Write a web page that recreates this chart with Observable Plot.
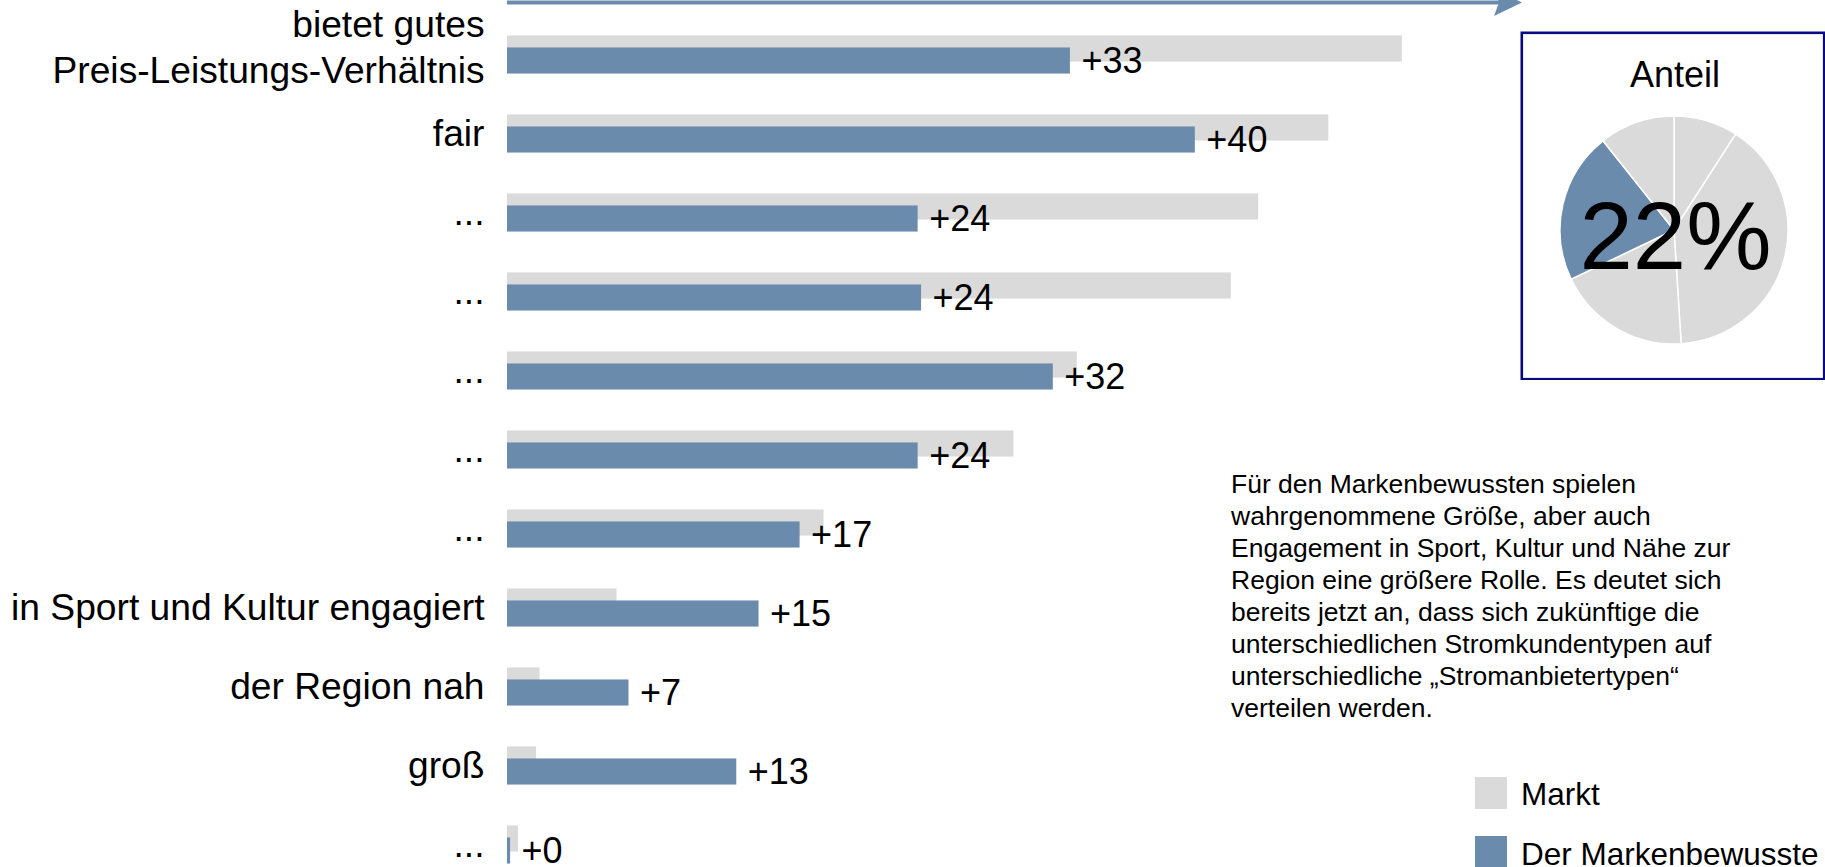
<!DOCTYPE html>
<html><head><meta charset="utf-8">
<script src="https://cdn.jsdelivr.net/npm/d3@7"></script>
<script src="https://cdn.jsdelivr.net/npm/@observablehq/plot@0.6"></script>
<style>
body{margin:0;background:#fff;font-family:"Liberation Sans",Arial,sans-serif;color:#000;}
#wrap{position:relative;width:1825px;height:867px;overflow:hidden;background:#fff;}
#chart{position:absolute;left:0;top:0;}
#arrow{position:absolute;left:0;top:0;}
#pie{position:absolute;left:1520px;top:31px;}
#note{position:absolute;left:1231px;top:468px;font-size:26.5px;line-height:32px;white-space:nowrap;}
.sw{position:absolute;width:32px;height:32px;left:1475px;}
.lt{position:absolute;left:1521px;font-size:31.5px;line-height:28px;white-space:nowrap;}
</style></head><body>
<div id="wrap">
  <div id="chart"></div>
  <svg id="arrow" width="1825" height="40">
    <line x1="507" y1="2.5" x2="1500" y2="2.5" stroke="#6b8bad" stroke-width="4"/>
    <polygon points="1522,2.5 1494,16 1499,2.5 1494,-11" fill="#6b8bad"/>
  </svg>
  <div id="pie"></div>
  <div id="note"></div>
  <div id="legend"></div>
</div>
<script>
// ---- data ----
const categories = ["bietet gutes\nPreis-Leistungs-Verhältnis", "fair", "...", "...", "...", "...", "...",
  "in Sport und Kultur engagiert", "der Region nah", "groß", "..."];
const markt = [52.3, 48.0, 43.9, 42.3, 33.3, 29.6, 18.5, 6.4, 1.9, 1.7, 0.64];
const markenbewusste = [32.9, 40.2, 24.0, 24.2, 31.9, 24.0, 17.1, 14.7, 7.1, 13.4, 0.18];
const valueLabels = ["+33", "+40", "+24", "+24", "+32", "+24", "+17", "+15", "+7", "+13", "+0"];

const seriesNames = ["Markt", "Der Markenbewusste"];
const seriesColors = ["#dadada", "#6b8bad"];

const pieSegments = ["Segment 1", "Segment 2", "Segment 3", "Der Markenbewusste", "Segment 5"];
const pieValues = [9.1, 39.9, 18.9, 21.4, 10.7];
const pieColors = ["#dadada", "#dadada", "#dadada", "#6b8bad", "#dadada"];
const pieTitle = "Anteil";
const pieShare = "22%";

const noteLines = [
  "Für den Markenbewussten spielen",
  "wahrgenommene Größe, aber auch",
  "Engagement in Sport, Kultur und Nähe zur",
  "Region eine größere Rolle. Es deutet sich",
  "bereits jetzt an, dass sich zukünftige die",
  "unterschiedlichen Stromkundentypen auf",
  "unterschiedliche „Stromanbietertypen“",
  "verteilen werden."
];

const FONT = "'Liberation Sans', Arial, sans-serif";

// ---- bar chart ----
const rows = categories.map((c, i) => ({i, label: c, markt: markt[i], mb: markenbewusste[i], txt: valueLabels[i]}));
const single = rows.filter(d => !d.label.includes("\n"));
const multi = rows.filter(d => d.label.includes("\n"));
const chart = Plot.plot({
  width: 1825, height: 867,
  marginLeft: 507, marginRight: 0, marginTop: 0, marginBottom: 0,
  x: {domain: [0, 77.03], axis: null},
  y: {type: "band", domain: d3.range(categories.length), range: [11.4, 887.1], padding: 0, axis: null},
  style: {fontFamily: FONT, background: "transparent", overflow: "visible", color: "#000"},
  marks: [
    Plot.barX(rows, {x: "markt", y: "i", fill: seriesColors[0], insetTop: 20.45, insetBottom: 32.45}),
    Plot.barX(rows, {x: "mb", y: "i", fill: seriesColors[1], insetTop: 32.45, insetBottom: 20.45}),
    Plot.text(single, {x: 0, y: "i", text: "label", textAnchor: "end", dx: -23, fontSize: 37.2, fill: "#000"}),
    Plot.text(multi, {x: 0, y: "i", text: "label", textAnchor: "end", dx: -23, dy: -10, fontSize: 37.2, lineHeight: 1.25, fill: "#000"}),
    Plot.text(rows, {x: "mb", y: "i", text: "txt", textAnchor: "start", dx: 11, dy: 6, fontSize: 36, fill: "#000"})
  ]
});
document.getElementById("chart").append(chart);

// ---- pie box ----
const pieData = pieSegments.map((s, i) => ({s, v: pieValues[i], c: pieColors[i]}));
function pieMark(index, scales, values, dims) {
  const g = d3.create("svg:g").attr("transform", `translate(${dims.width / 2 + 1.5},${199})`);
  const arcs = d3.pie().sort(null).value(d => d.v)(pieData);
  const arc = d3.arc().innerRadius(0).outerRadius(114);
  g.selectAll("path").data(arcs).join("path")
    .attr("d", arc).attr("fill", d => d.data.c)
    .attr("stroke", "#fff").attr("stroke-width", 1.5);
  return g.node();
}
const pie = Plot.plot({
  width: 305, height: 349, margin: 0,
  style: {fontFamily: FONT, background: "transparent"},
  marks: [
    Plot.frame({stroke: "#0a0a80", strokeWidth: 2.6, inset: 1.3}),
    pieMark,
    Plot.text([pieTitle], {frameAnchor: "top", lineAnchor: "middle", dy: 43.5, dx: 2, fontSize: 36, fill: "#000"}),
    Plot.text([pieShare], {frameAnchor: "top", lineAnchor: "middle", dy: 207, dx: 2.5, fontSize: 96, fill: "#000"})
  ]
});
document.getElementById("pie").append(pie);

// ---- note ----
document.getElementById("note").innerHTML = noteLines.join("<br>");

// ---- legend ----
const legend = document.getElementById("legend");
seriesNames.forEach((n, i) => {
  const sw = document.createElement("div");
  sw.className = "sw"; sw.style.top = (777 + i * 59) + "px"; sw.style.background = seriesColors[i];
  const t = document.createElement("div");
  t.className = "lt"; t.style.top = (780 + i * 60) + "px"; t.textContent = n;
  legend.append(sw, t);
});
</script>
</body></html>
